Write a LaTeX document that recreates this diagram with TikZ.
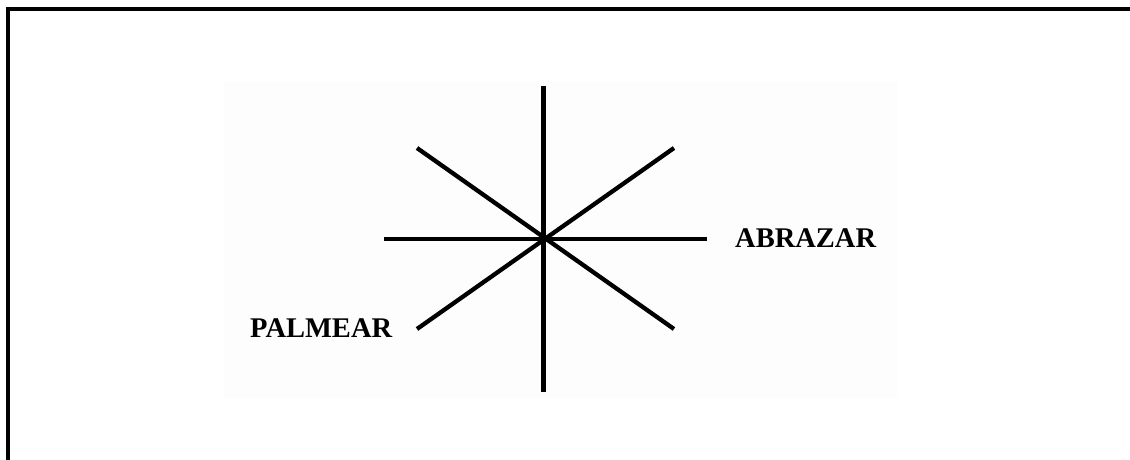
\documentclass[tikz,border=0pt]{standalone}
\usepackage{fontspec}
\setmainfont{Liberation Serif}
\usepackage{tikz}
\usetikzlibrary{positioning}
\definecolor{panelbg}{HTML}{FDFDFD}
\tikzset{
  ray/.style   = {line width=4.3pt, line cap=butt},
  frame/.style = {line width=4pt},
  lbl/.style   = {font=\fontsize{28.5}{32}\selectfont\bfseries, inner sep=0pt, anchor=west},
}
\begin{document}
\begin{tikzpicture}[x=1pt, y=-1pt]
  \useasboundingbox (0,0) rectangle (1130,460);
  % open frame, left and top only
  \draw[frame] (8,460) -- (8,9) -- (1130,9);
  \fill[panelbg] (224,81) rectangle (897,398);
  % star
  \coordinate (c) at (543.5,239);
  \coordinate (n) at (543.5,86);
  \coordinate (s) at (543.5,392);
  \coordinate (w) at (384,239);
  \coordinate (e) at (707,239);
  \coordinate (nw) at (417,148);
  \coordinate (ne) at (674,148);
  \coordinate (sw) at (417,329);
  \coordinate (se) at (674,329);
  \draw[ray] (n) -- (s);
  \draw[ray] (w) -- (e);
  \draw[ray] (nw) -- (se);
  \draw[ray] (sw) -- (ne);
  \node[lbl] (palmear) at (250,328) {PALMEAR};
  \node[lbl] (abrazar) at (735,238) {ABRAZAR};
\end{tikzpicture}
\end{document}
